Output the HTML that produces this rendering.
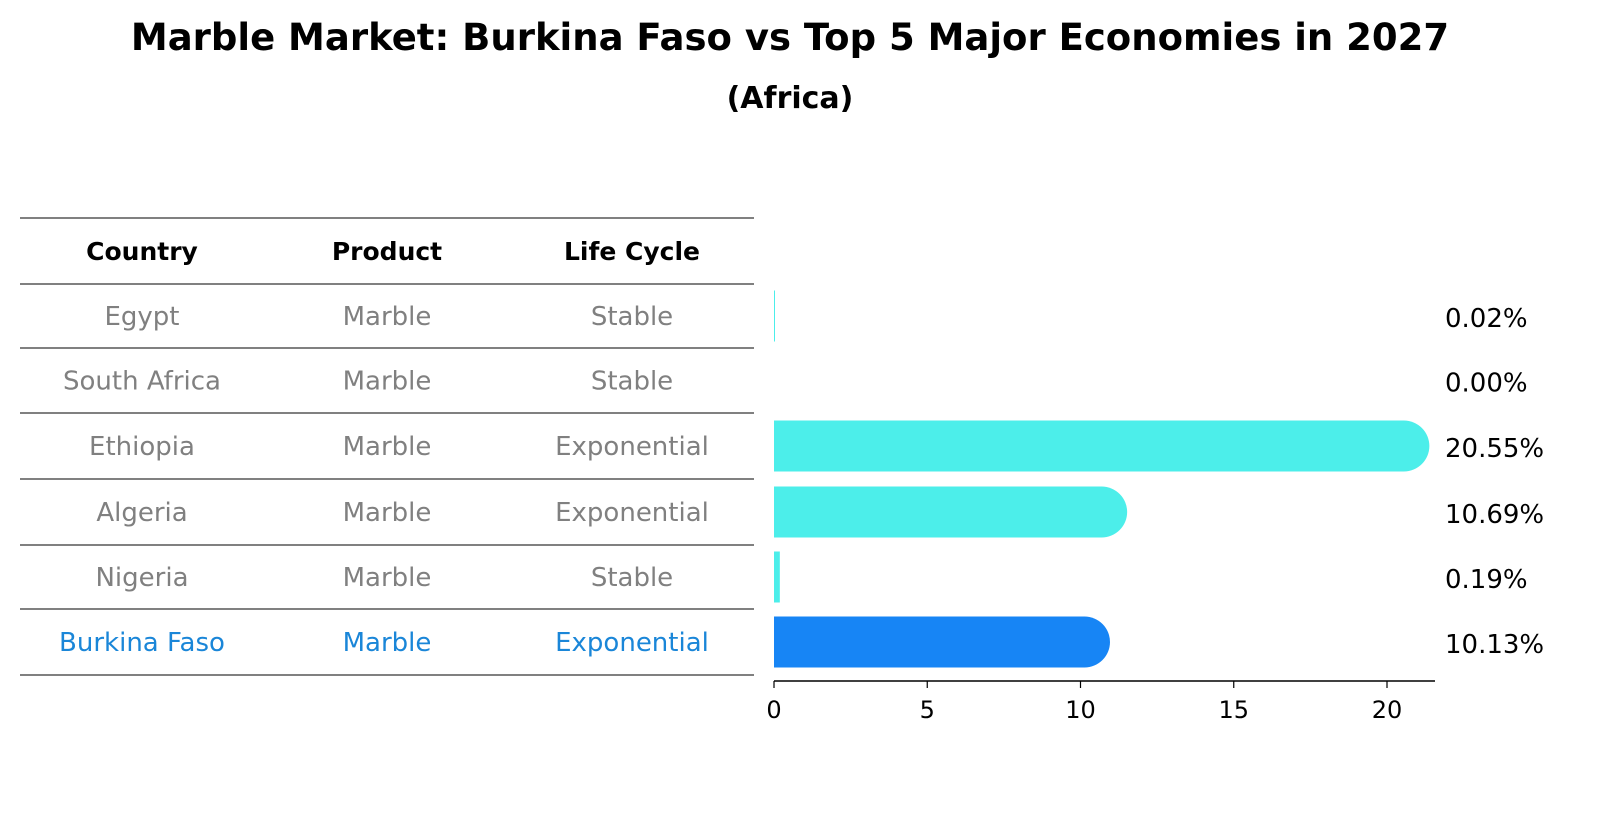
<!DOCTYPE html>
<html><head><meta charset="utf-8"><style>
html,body{margin:0;padding:0;background:#fff;overflow:hidden;width:1604px;height:823px;}
svg{display:block;}
svg text{font-family:"DejaVu Sans","Liberation Sans",sans-serif;}
</style></head><body>
<svg id="chart" width="1604" height="823" viewBox="0 0 1604 823" xmlns="http://www.w3.org/2000/svg">
<text x="790" y="50" text-anchor="middle" font-size="37" font-weight="bold">Marble Market: Burkina Faso vs Top 5 Major Economies in 2027</text>
<text x="790" y="108" text-anchor="middle" font-size="30" font-weight="bold">(Africa)</text>
<g id="table"></g>
<g id="bars"></g>
</svg>
<script>
const countries=["Egypt","South Africa","Ethiopia","Algeria","Nigeria","Burkina Faso"];
const products=["Marble","Marble","Marble","Marble","Marble","Marble"];
const lifeCycles=["Stable","Stable","Exponential","Exponential","Stable","Exponential"];
const values=[0.02,0.00,20.55,10.69,0.19,10.13];
const valueLabels=["0.02%","0.00%","20.55%","10.69%","0.19%","10.13%"];
const xTicks=[0,5,10,15,20];
const highlight="Burkina Faso";

const NS="http://www.w3.org/2000/svg";
function mk(t,a,p){const e=document.createElementNS(NS,t);for(const k in a)e.setAttribute(k,a[k]);p.appendChild(e);return e;}
const table=document.getElementById('table'), bars=document.getElementById('bars');
const lineYs=[218,284,348,413,479,545,609,675];
const colX=[142,387,632];
function rowY(i){return (lineYs[i+1]+lineYs[i+2])/2;}
lineYs.forEach((y,i)=>{const l=mk('line',{x1:20,x2:754,y1:y,y2:y,stroke:'#000','stroke-width':1},table);

});
["Country","Product","Life Cycle"].forEach((h,j)=>{const t=mk('text',{x:colX[j],y:(lineYs[0]+lineYs[1])/2+9,'text-anchor':'middle','font-size':25,'font-weight':'bold'},table);t.textContent=h;

});
countries.forEach((c,i)=>{const col=c===highlight?'#1a86d8':'#808080';
[c,products[i],lifeCycles[i]].forEach((v,j)=>{const t=mk('text',{x:colX[j],y:rowY(i)+9,'text-anchor':'middle','font-size':26,fill:col},table);t.textContent=v;

});});

const x0=774,scale=(1387-774)/20;
function xs(v){return x0+v*scale;}
const bh=51;
values.forEach((v,i)=>{const cy=rowY(i),col=countries[i]===highlight?'#1785f5':'#4ceeea';
const w=xs(v)-x0;let e;
if(w>bh/2){e=mk('rect',{x:x0-bh/2,y:cy-bh/2,width:w+bh,height:bh,rx:bh/2,fill:col},bars);
mk('rect',{x:x0-bh/2-1,y:cy-bh/2-1,width:bh/2+1,height:bh+2,fill:'#fff'},bars);}
else{e=mk('rect',{x:x0,y:cy-bh/2,width:v>0?Math.max(w,1):0,height:bh,fill:col},bars);}


const t=mk('text',{x:1445,y:cy+11,'font-size':26},bars);t.textContent=valueLabels[i];

});
const ax=mk('line',{x1:x0,x2:1435,y1:681,y2:681,stroke:'#000','stroke-width':1.5},bars);


xTicks.forEach(v=>{mk('line',{x1:xs(v),x2:xs(v),y1:681,y2:688,stroke:'#000','stroke-width':1.2},bars);
const t=mk('text',{x:xs(v),y:718,'text-anchor':'middle','font-size':24},bars);t.textContent=v;

});
</script>
</body></html>
